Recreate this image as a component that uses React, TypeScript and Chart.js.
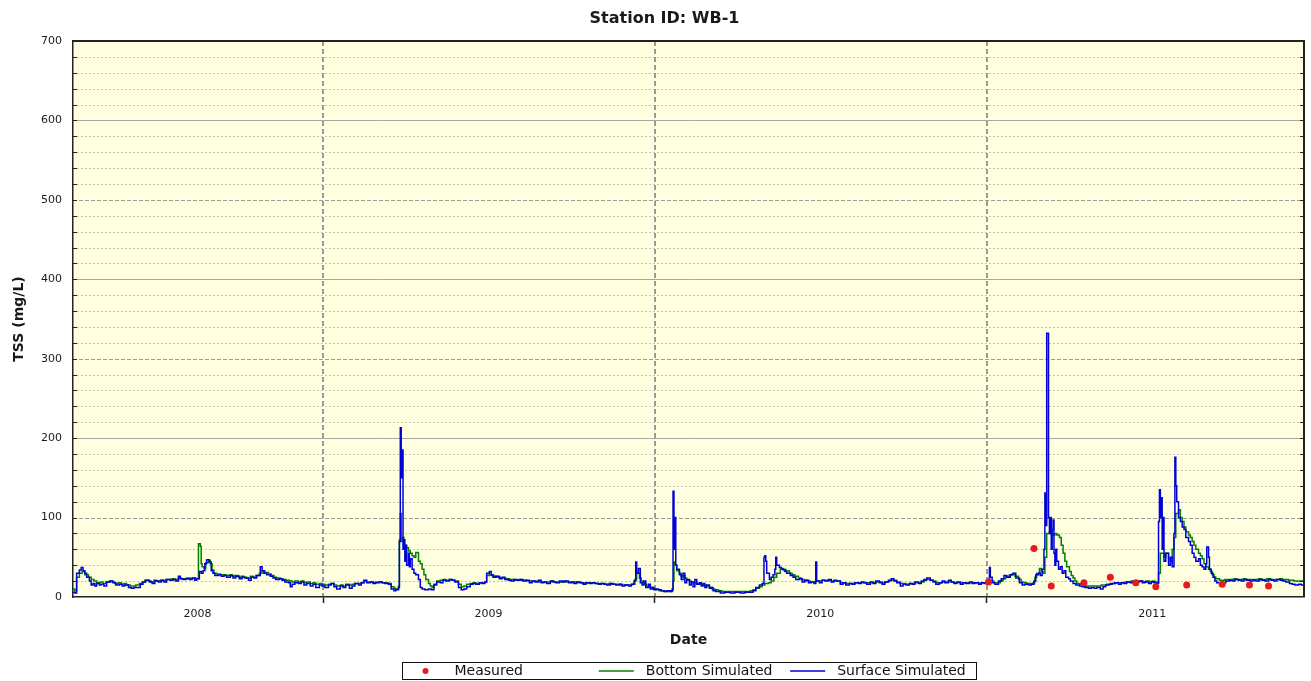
import React, { useEffect, useRef } from 'react';
import { Chart, registerables } from 'chart.js';

Chart.register(...registerables);

// x values are day numbers counted from 2008-01-01 (day 0)
const X_MIN_DAY = 91; // 2008-04-01
const X_MAX_DAY = 1445; // 2011-12-16
const yearStartDays = [366, 731, 1096];
const yearLabelDays = [228, 548, 913, 1278];
const yearLabels = ['2008', '2009', '2010', '2011'];
const Y_MAX = 700;
const Y_STEP = 100;

const chartTitle = 'Station ID: WB-1';
const yTitle = 'TSS (mg/L)';
const xTitle = 'Date';

// Measured TSS (mg/L)
const measured: [number, number][] = [
  [1098, 19], [1148, 61], [1167, 14], [1203, 18], [1232, 25], [1260, 18],
  [1282, 13], [1316, 15], [1355, 16], [1385, 15], [1406, 14],
];

// Bottom Simulated TSS (mg/L)
const bottomSimulated: [number, number][] = [
  [91, 10], [93, 8], [95, 25], [98, 30], [101, 32], [104, 28], [108, 25], [111, 22], [114, 20], [117, 18],
  [121, 19], [124, 17], [127, 19], [131, 20], [134, 19], [137, 17], [141, 18], [144, 16], [147, 17], [150, 15],
  [154, 14], [157, 14], [160, 15], [164, 17], [167, 19], [170, 21], [174, 20], [177, 19], [180, 21], [183, 20],
  [187, 21], [190, 20], [193, 22], [197, 22], [200, 23], [203, 22], [207, 24], [210, 23], [213, 23], [216, 24],
  [220, 23], [223, 24], [226, 23], [229, 67], [231, 64], [232, 42], [233, 38], [235, 36], [237, 43], [240, 46],
  [242, 42], [244, 34], [246, 30], [249, 29], [253, 28], [256, 28], [259, 27], [263, 28], [266, 26], [269, 27],
  [273, 25], [276, 26], [279, 25], [282, 24], [286, 26], [289, 25], [292, 27], [296, 30], [299, 33], [302, 31],
  [306, 29], [309, 27], [312, 25], [315, 24], [319, 23], [322, 22], [325, 21], [329, 20], [332, 19], [335, 20],
  [339, 19], [342, 20], [345, 18], [348, 19], [352, 17], [355, 18], [358, 16], [362, 17], [365, 16],
  [368, 15], [372, 16], [375, 17], [378, 15], [381, 14], [385, 15], [388, 14], [391, 16], [395, 15], [398, 16],
  [401, 17], [405, 17], [408, 18], [411, 20], [414, 19], [418, 19], [421, 18], [424, 19], [428, 19], [431, 18],
  [434, 18], [438, 17], [441, 13], [444, 11], [446, 10], [449, 14], [450, 72], [451, 105], [452, 70], [453, 75],
  [455, 65], [457, 62], [460, 58], [462, 55], [464, 52], [466, 50], [468, 56], [471, 45], [473, 42], [475, 35],
  [477, 28], [479, 22], [482, 17], [484, 14], [486, 12], [488, 16], [491, 20], [495, 21], [498, 22], [501, 21],
  [505, 22], [508, 21], [511, 20], [515, 16], [518, 13], [521, 14], [524, 16], [528, 17], [531, 18], [534, 17],
  [538, 18], [541, 18], [544, 19], [546, 27], [549, 28], [551, 27], [554, 26], [557, 25], [561, 24], [564, 24],
  [567, 23], [571, 22], [574, 22], [577, 21], [581, 22], [584, 21], [587, 21], [590, 20], [594, 20], [597, 20],
  [600, 20], [604, 19], [607, 19], [610, 19], [614, 19], [617, 20], [620, 19], [623, 19], [627, 19], [630, 20],
  [633, 19], [637, 19], [640, 18], [643, 19], [647, 18], [650, 18], [653, 17], [656, 18], [660, 18], [663, 18],
  [666, 17], [670, 17], [673, 17], [676, 16], [680, 17], [683, 16], [686, 16], [689, 16], [693, 15], [696, 15],
  [699, 15], [703, 15], [706, 16], [709, 22], [711, 30], [714, 24], [716, 20], [718, 18], [720, 16], [722, 14],
  [726, 12], [729, 10],
  [732, 9], [736, 8], [739, 8], [742, 7], [746, 7], [749, 8], [751, 20], [752, 44], [753, 40], [755, 33],
  [758, 30], [760, 26], [762, 27], [764, 24], [766, 21], [769, 20], [771, 19], [774, 18], [777, 17], [781, 16],
  [784, 15], [787, 14], [791, 12], [794, 10], [797, 9], [801, 8], [805, 7], [809, 7], [814, 7], [819, 7],
  [825, 7], [830, 7], [836, 8], [839, 9], [842, 11], [846, 13], [849, 15], [852, 17], [856, 18], [859, 20],
  [862, 25], [865, 30], [869, 35], [872, 35], [875, 33], [879, 30], [882, 28], [885, 26], [889, 24], [892, 22],
  [895, 21], [898, 20], [902, 19], [905, 19], [908, 20], [912, 20], [915, 21], [918, 21], [922, 21], [925, 20],
  [928, 20], [931, 20], [935, 18], [938, 18], [941, 17], [945, 17], [948, 17], [951, 18], [955, 18], [958, 18],
  [961, 18], [964, 18], [968, 18], [971, 18], [974, 19], [978, 19], [981, 18], [984, 19], [988, 20], [991, 21],
  [994, 21], [997, 19], [1001, 17], [1004, 17], [1007, 16], [1011, 17], [1014, 17], [1017, 18], [1021, 18], [1024, 19],
  [1027, 21], [1030, 22], [1034, 21], [1037, 20], [1040, 18], [1044, 18], [1047, 19], [1050, 19], [1054, 20], [1057, 19],
  [1060, 18], [1063, 18], [1067, 18], [1070, 18], [1073, 18], [1077, 18], [1080, 18], [1083, 18], [1087, 17], [1090, 18],
  [1093, 18], [1095, 18],
  [1098, 19], [1101, 20], [1104, 18], [1107, 18], [1111, 20], [1114, 23], [1117, 26], [1121, 28], [1124, 29], [1127, 26],
  [1131, 22], [1134, 19], [1137, 18], [1140, 17], [1144, 17], [1147, 18], [1149, 25], [1151, 30], [1154, 36], [1156, 32],
  [1158, 30], [1160, 50], [1162, 80], [1165, 82], [1167, 80], [1169, 78], [1171, 80], [1173, 78], [1176, 75], [1178, 65],
  [1180, 55], [1182, 45], [1184, 38], [1187, 32], [1189, 27], [1191, 24], [1193, 20], [1195, 17], [1199, 16], [1202, 15],
  [1205, 14], [1209, 14], [1212, 14], [1215, 14], [1219, 14], [1222, 15], [1225, 15], [1228, 16], [1232, 17], [1235, 17],
  [1238, 18], [1242, 18], [1245, 18], [1248, 19], [1252, 19], [1255, 20], [1258, 20], [1261, 20], [1265, 20], [1268, 19],
  [1271, 20], [1275, 19], [1278, 20], [1281, 19], [1285, 30], [1287, 55], [1289, 55], [1291, 50], [1293, 55], [1296, 48],
  [1298, 45], [1300, 60], [1302, 75], [1304, 105], [1307, 110], [1309, 100], [1311, 95], [1313, 88], [1315, 82], [1318, 78],
  [1320, 75], [1322, 70], [1324, 65], [1326, 60], [1329, 55], [1331, 52], [1333, 48], [1335, 42], [1337, 38], [1340, 35],
  [1342, 32], [1344, 28], [1346, 25], [1348, 23], [1352, 21], [1355, 21], [1358, 22], [1362, 22], [1365, 22], [1368, 23],
  [1371, 22], [1375, 22], [1378, 23], [1381, 22], [1385, 22], [1388, 22], [1391, 22], [1395, 23], [1398, 22], [1401, 22],
  [1404, 23], [1408, 22], [1411, 22], [1414, 22], [1418, 23], [1421, 22], [1424, 22], [1428, 21], [1431, 21], [1434, 20],
  [1437, 20], [1441, 20], [1444, 19],
];

// Surface Simulated TSS (mg/L)
const surfaceSimulated: [number, number][] = [
  [91, 6], [93, 5], [95, 30], [98, 34], [100, 37], [102, 33], [104, 30], [106, 25], [109, 20], [111, 15],
  [113, 17], [115, 14], [117, 17], [120, 15], [122, 16], [125, 14], [128, 19], [132, 20], [135, 18], [138, 15],
  [142, 16], [145, 14], [148, 15], [152, 12], [155, 11], [158, 12], [161, 12], [165, 16], [168, 19], [171, 21],
  [175, 19], [178, 17], [181, 20], [185, 19], [188, 21], [191, 19], [194, 22], [198, 21], [201, 22], [204, 20],
  [207, 26], [209, 23], [212, 22], [215, 23], [219, 22], [222, 24], [225, 21], [227, 23], [230, 32], [232, 30],
  [234, 33], [236, 42], [238, 47], [241, 44], [243, 33], [245, 30], [247, 27], [251, 28], [254, 26], [257, 27],
  [260, 25], [264, 27], [267, 24], [270, 26], [274, 23], [277, 25], [280, 24], [284, 21], [287, 25], [290, 24],
  [293, 27], [297, 38], [299, 33], [301, 30], [304, 28], [308, 26], [311, 24], [314, 22], [318, 23], [321, 21],
  [324, 19], [328, 18], [330, 13], [332, 16], [335, 18], [339, 17], [342, 19], [345, 15], [348, 17], [352, 14],
  [355, 16], [358, 12], [362, 15], [365, 14],
  [368, 12], [372, 15], [375, 17], [378, 13], [381, 10], [385, 14], [388, 12], [391, 15], [395, 11], [398, 14],
  [401, 17], [405, 15], [408, 18], [411, 21], [414, 18], [418, 19], [421, 17], [424, 18], [428, 19], [431, 18],
  [434, 17], [438, 16], [441, 10], [444, 8], [446, 9], [449, 12], [450, 70], [451, 213], [452, 150], [453, 185],
  [454, 60], [455, 72], [456, 45], [457, 65], [458, 40], [460, 55], [461, 38], [462, 48], [464, 35], [466, 30],
  [468, 28], [471, 22], [473, 12], [475, 10], [478, 9], [482, 10], [485, 9], [488, 15], [491, 19], [495, 18],
  [498, 21], [501, 20], [505, 22], [508, 21], [511, 19], [515, 12], [518, 9], [521, 10], [524, 13], [528, 16],
  [531, 17], [534, 16], [538, 18], [541, 17], [544, 19], [546, 30], [549, 32], [551, 28], [553, 25], [556, 26],
  [560, 23], [563, 25], [566, 22], [570, 21], [573, 20], [576, 22], [579, 21], [583, 22], [586, 20], [589, 21],
  [593, 18], [596, 20], [599, 19], [603, 21], [606, 18], [609, 19], [612, 17], [616, 20], [619, 19], [622, 18],
  [626, 20], [629, 19], [632, 20], [636, 18], [639, 19], [642, 17], [645, 19], [649, 18], [652, 16], [655, 18],
  [659, 17], [662, 18], [665, 17], [669, 16], [672, 17], [675, 16], [678, 15], [682, 17], [685, 16], [688, 15],
  [692, 16], [695, 14], [698, 15], [702, 14], [705, 16], [708, 20], [710, 44], [711, 30], [713, 36], [715, 18],
  [717, 15], [719, 20], [721, 12], [724, 16], [726, 10], [728, 12], [730, 9],
  [732, 10], [735, 9], [738, 8], [741, 7], [744, 8], [748, 7], [750, 10], [751, 133], [752, 60], [753, 100],
  [754, 40], [755, 35], [758, 28], [760, 22], [762, 30], [764, 18], [766, 22], [769, 15], [771, 19], [773, 13],
  [775, 22], [777, 16], [780, 18], [782, 14], [784, 17], [786, 12], [788, 15], [791, 11], [793, 12], [795, 8],
  [798, 7], [803, 5], [808, 6], [814, 5], [819, 6], [825, 5], [830, 6], [836, 6], [839, 8], [842, 12],
  [846, 15], [849, 17], [851, 50], [852, 52], [853, 45], [854, 30], [857, 22], [859, 25], [861, 28], [863, 35],
  [864, 50], [865, 40], [868, 37], [870, 36], [872, 34], [874, 32], [876, 30], [880, 27], [883, 25], [886, 22],
  [890, 23], [893, 19], [896, 21], [900, 18], [903, 19], [906, 17], [908, 44], [909, 20], [912, 18], [915, 21],
  [918, 20], [922, 22], [925, 19], [928, 21], [931, 20], [935, 16], [938, 18], [941, 15], [945, 17], [948, 16],
  [951, 18], [955, 17], [958, 19], [961, 18], [964, 16], [968, 19], [971, 17], [974, 20], [978, 18], [981, 16],
  [984, 19], [988, 21], [991, 23], [994, 20], [997, 18], [1001, 14], [1004, 16], [1007, 15], [1011, 17], [1014, 16],
  [1017, 19], [1021, 17], [1024, 20], [1027, 22], [1030, 24], [1034, 21], [1037, 19], [1040, 16], [1044, 18], [1047, 20],
  [1050, 18], [1054, 21], [1057, 19], [1060, 17], [1063, 19], [1067, 16], [1070, 18], [1073, 17], [1077, 19], [1080, 17],
  [1083, 18], [1087, 16], [1090, 18], [1093, 17], [1095, 19],
  [1098, 22], [1099, 37], [1100, 25], [1102, 18], [1105, 16], [1109, 20], [1112, 23], [1115, 27], [1118, 25], [1122, 28],
  [1125, 30], [1128, 24], [1132, 18], [1135, 15], [1138, 16], [1142, 15], [1145, 16], [1148, 20], [1150, 28], [1153, 30],
  [1155, 27], [1157, 35], [1159, 60], [1160, 131], [1161, 90], [1162, 332], [1164, 100], [1165, 80], [1166, 100], [1167, 60],
  [1168, 85], [1169, 97], [1170, 55], [1171, 40], [1172, 60], [1173, 45], [1175, 35], [1177, 38], [1179, 30], [1181, 33],
  [1183, 25], [1186, 23], [1188, 20], [1191, 17], [1194, 15], [1198, 14], [1201, 13], [1204, 12], [1208, 11], [1211, 12],
  [1214, 11], [1217, 12], [1221, 10], [1224, 13], [1227, 15], [1231, 16], [1234, 17], [1237, 18], [1241, 16], [1244, 18],
  [1247, 17], [1250, 19], [1254, 18], [1257, 20], [1260, 19], [1264, 20], [1267, 18], [1270, 19], [1274, 17], [1277, 19],
  [1280, 18], [1283, 17], [1285, 95], [1286, 135], [1287, 100], [1288, 125], [1289, 60], [1290, 100], [1291, 45], [1293, 55],
  [1296, 40], [1298, 50], [1300, 38], [1302, 80], [1303, 176], [1304, 140], [1305, 120], [1307, 100], [1309, 95], [1311, 88],
  [1313, 85], [1315, 75], [1318, 70], [1320, 65], [1322, 55], [1324, 50], [1326, 45], [1329, 48], [1331, 40], [1333, 38],
  [1335, 35], [1337, 42], [1338, 63], [1340, 50], [1341, 35], [1343, 30], [1345, 25], [1347, 20], [1349, 18], [1353, 17],
  [1356, 18], [1359, 20], [1363, 21], [1366, 20], [1369, 22], [1373, 21], [1376, 20], [1379, 22], [1382, 21], [1386, 20],
  [1389, 21], [1392, 20], [1396, 22], [1399, 21], [1402, 20], [1406, 22], [1409, 21], [1412, 20], [1415, 22], [1419, 21],
  [1422, 20], [1425, 19], [1429, 17], [1432, 16], [1435, 15], [1439, 16], [1442, 15], [1445, 16],
];

const FONT = '"DejaVu Sans", Verdana, sans-serif';
const TEXT = '#1a1a1a';
const PLOT_BG = '#FFFFE0';
const COLOR_MEASURED = 'rgb(232, 26, 30)';
const COLOR_BOTTOM = 'rgb(0, 128, 0)';
const COLOR_SURFACE = 'rgb(0, 0, 215)';

const toXY = (arr: [number, number][]) => arr.map(([x, y]) => ({ x, y }));

const decorPlugin = {
  id: 'decor',
  beforeDraw(chart: any) {
    const { ctx, chartArea: a, scales } = chart;
    const ys = scales.y;
    const xs = scales.x;
    ctx.save();
    ctx.fillStyle = '#ffffff';
    ctx.fillRect(0, 0, chart.width, chart.height);
    ctx.fillStyle = PLOT_BG;
    ctx.fillRect(a.left, a.top, a.right - a.left, a.bottom - a.top);

    for (let v = 20; v < Y_MAX; v += 20) {
      const py = Math.round(ys.getPixelForValue(v)) + 0.5;
      ctx.beginPath();
      if (v % 200 === 0) {
        ctx.setLineDash([]);
        ctx.strokeStyle = '#a8a8a0';
      } else if (v % 100 === 0) {
        ctx.setLineDash([4, 2]);
        ctx.strokeStyle = '#9c9c94';
      } else {
        ctx.setLineDash([2, 2]);
        ctx.strokeStyle = '#c2c2b6';
      }
      ctx.lineWidth = 1;
      ctx.moveTo(a.left, py);
      ctx.lineTo(a.right, py);
      ctx.stroke();
    }
    ctx.setLineDash([5, 3]);
    ctx.strokeStyle = '#9a9a9a';
    ctx.lineWidth = 2;
    for (const d of yearStartDays) {
      const px = Math.round(xs.getPixelForValue(d));
      ctx.beginPath();
      ctx.moveTo(px, a.top);
      ctx.lineTo(px, a.bottom);
      ctx.stroke();
    }
    ctx.restore();
  },
  afterDraw(chart: any) {
    const { ctx, chartArea: a, scales } = chart;
    const ys = scales.y;
    ctx.save();
    // frame
    ctx.setLineDash([]);
    ctx.strokeStyle = '#222';
    ctx.lineWidth = 2;
    ctx.beginPath();
    ctx.moveTo(a.left, a.top);
    ctx.lineTo(a.right, a.top);
    ctx.lineTo(a.right, a.bottom);
    ctx.stroke();
    // inner ticks
    ctx.lineWidth = 1;
    for (let v = 20; v < Y_MAX; v += 20) {
      const py = Math.round(ys.getPixelForValue(v)) + 0.5;
      ctx.beginPath();
      ctx.moveTo(a.left, py);
      ctx.lineTo(a.left + 4, py);
      ctx.moveTo(a.right - 4, py);
      ctx.lineTo(a.right, py);
      ctx.stroke();
    }
    // title
    ctx.fillStyle = TEXT;
    ctx.font = `bold 16px ${FONT}`;
    ctx.textAlign = 'center';
    ctx.textBaseline = 'middle';
    ctx.fillText(chartTitle, (a.left + a.right) / 2 - 24, 19);

    // legend
    const W = 574;
    const H = 17;
    const top = 662;
    const left = Math.round((a.left + a.right) / 2 - W / 2) + 0.5;
    ctx.fillStyle = '#ffffff';
    ctx.fillRect(left, top + 0.5, W, H);
    ctx.strokeStyle = '#111';
    ctx.lineWidth = 1;
    ctx.strokeRect(left, top + 0.5, W, H);
    const colW = W / 3;
    const cy = top + 0.5 + H / 2;
    chart.data.datasets.forEach((ds: any, i: number) => {
      const cx = left + i * colW;
      if (ds.showLine === false) {
        ctx.fillStyle = ds.pointBackgroundColor;
        ctx.beginPath();
        ctx.arc(cx + 23, cy, 3, 0, Math.PI * 2);
        ctx.fill();
      } else {
        ctx.strokeStyle = ds.borderColor;
        ctx.lineWidth = 1.5;
        ctx.beginPath();
        ctx.moveTo(cx + 5, cy);
        ctx.lineTo(cx + 40, cy);
        ctx.stroke();
      }
      ctx.fillStyle = '#111';
      ctx.font = `14px ${FONT}`;
      ctx.textAlign = 'left';
      ctx.textBaseline = 'middle';
      ctx.fillText(ds.label, cx + 52, cy);
    });
    ctx.restore();
  },
};

export default function App() {
  const canvasRef = useRef<HTMLCanvasElement | null>(null);

  useEffect(() => {
    const canvas = canvasRef.current;
    if (!canvas) return;
    const chart = new Chart(canvas, {
      type: 'line',
      data: {
        datasets: [
          {
            label: 'Measured',
            data: toXY(measured),
            showLine: false,
            pointRadius: 3.5,
            pointHoverRadius: 3.5,
            pointBackgroundColor: COLOR_MEASURED,
            pointBorderWidth: 0,
            borderColor: COLOR_MEASURED,
            backgroundColor: COLOR_MEASURED,
            order: 0,
          },
          {
            label: 'Bottom Simulated',
            data: toXY(bottomSimulated),
            borderColor: COLOR_BOTTOM,
            backgroundColor: COLOR_BOTTOM,
            borderWidth: 1.5,
            pointRadius: 0,
            stepped: true,
            fill: false,
            order: 2,
          },
          {
            label: 'Surface Simulated',
            data: toXY(surfaceSimulated),
            borderColor: COLOR_SURFACE,
            backgroundColor: COLOR_SURFACE,
            borderWidth: 1.5,
            pointRadius: 0,
            stepped: true,
            fill: false,
            order: 1,
          },
        ],
      },
      options: {
        responsive: false,
        maintainAspectRatio: false,
        devicePixelRatio: 1,
        animation: false,
        events: [],
        layout: { padding: { top: 41, right: 7, bottom: 28, left: 0 } },
        plugins: {
          legend: { display: false },
          tooltip: { enabled: false },
          title: { display: false },
        },
        scales: {
          x: {
            type: 'linear',
            min: X_MIN_DAY,
            max: X_MAX_DAY,
            afterBuildTicks: (scale: any) => {
              scale.ticks = [...yearStartDays, ...yearLabelDays]
                .sort((p, q) => p - q)
                .map((value) => ({ value }));
            },
            afterFit: (scale: any) => {
              scale.height = 56;
            },
            ticks: {
              autoSkip: false,
              maxRotation: 0,
              minRotation: 0,
              padding: 5,
              color: TEXT,
              font: { family: FONT, size: 11 },
              callback: (value: any) => {
                const i = yearLabelDays.indexOf(Number(value));
                return i >= 0 ? yearLabels[i] : '';
              },
            },
            grid: {
              drawOnChartArea: false,
              drawTicks: true,
              tickLength: 6,
              tickWidth: 1.5,
              tickColor: (c: any) =>
                c.tick && yearStartDays.includes(c.tick.value) ? '#222' : 'rgba(0,0,0,0)',
            },
            border: { display: true, color: '#222', width: 1.5 },
            title: {
              display: true,
              text: xTitle,
              color: TEXT,
              font: { family: FONT, size: 14, weight: 'bold' },
              padding: { top: 4, bottom: 4 },
            },
          },
          y: {
            type: 'linear',
            min: 0,
            max: Y_MAX,
            afterFit: (scale: any) => {
              scale.width = 73;
            },
            ticks: {
              stepSize: Y_STEP,
              padding: 11,
              color: TEXT,
              font: { family: FONT, size: 11 },
            },
            grid: { drawOnChartArea: false, drawTicks: false },
            border: { display: true, color: '#222', width: 1.5 },
            title: {
              display: true,
              text: yTitle,
              color: TEXT,
              font: { family: FONT, size: 14, weight: 'bold' },
              padding: { top: 11, bottom: 0 },
            },
          },
        },
      },
      plugins: [decorPlugin],
    } as any);
    return () => chart.destroy();
  }, []);

  return (
    <div style={{ position: 'fixed', left: 0, top: 0, width: 1311, height: 681, background: '#fff' }}>
      <canvas ref={canvasRef} width={1311} height={681} style={{ display: 'block', width: 1311, height: 681 }} />
    </div>
  );
}
